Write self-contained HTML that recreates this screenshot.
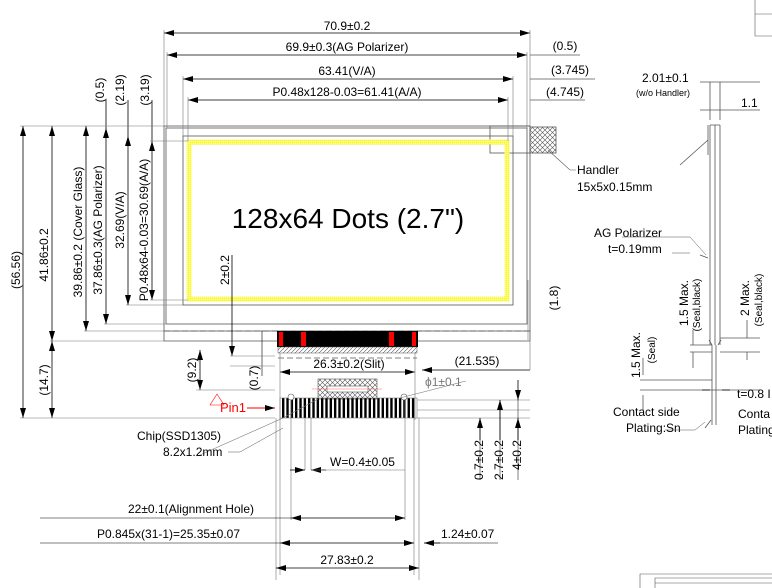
<!DOCTYPE html>
<html><head><meta charset="utf-8"><style>
body{margin:0;background:#fff}
svg{display:block}
text{font-family:"Liberation Sans",sans-serif;fill:#000}
</style></head><body>
<svg width="772" height="588" viewBox="0 0 772 588" xmlns="http://www.w3.org/2000/svg">
<defs>
<marker id="a" viewBox="0 0 10 6" refX="10" refY="3" markerWidth="10" markerHeight="6" orient="auto-start-reverse" markerUnits="userSpaceOnUse"><path d="M0,0L10,3L0,6z" fill="#000"/></marker>
<pattern id="hx" width="5" height="5" patternUnits="userSpaceOnUse"><path d="M0,0L5,5M5,0L0,5" stroke="#555" stroke-width="0.6"/></pattern>
<pattern id="hd" width="4" height="4" patternUnits="userSpaceOnUse"><path d="M0,4L4,0" stroke="#555" stroke-width="0.6"/></pattern>
<pattern id="pin" x="282" width="4.33" height="10" patternUnits="userSpaceOnUse"><rect x="0" y="0" width="2.4" height="10" fill="#000"/></pattern>
<pattern id="yl" width="2" height="2" patternUnits="userSpaceOnUse"><rect width="2" height="2" fill="#ffff90"/><path d="M0,0H2M0,0V2" stroke="#f0f000" stroke-width="0.7"/></pattern>
</defs>
<g fill="none" stroke="#555" stroke-width="0.8">
<rect x="164" y="126" width="366" height="205"/>
<rect x="166" y="128" width="361" height="196"/>
<rect x="183" y="136" width="330" height="169"/>
<path d="M164,331V341H277M418,341H530V331" />
<path d="M164,331H530" stroke-dasharray="6,3"/>
<rect x="490" y="126" width="40" height="27"/>
</g>
<rect x="189" y="142" width="318" height="157" fill="none" stroke="url(#yl)" stroke-width="5"/>
<rect x="530" y="127" width="26" height="26" fill="url(#hx)" stroke="#555" stroke-width="0.8"/>
<text x="348" y="228" font-size="28" text-anchor="middle">128x64 Dots (2.7")</text>
<g stroke="#000" stroke-width="0.8" fill="none">
<path d="M164,33H530" marker-start="url(#a)" marker-end="url(#a)"/>
<path d="M167,55H527" marker-start="url(#a)" marker-end="url(#a)"/>
<path d="M183,79H513" marker-start="url(#a)" marker-end="url(#a)"/>
<path d="M188,100H508" marker-start="url(#a)" marker-end="url(#a)"/>
<path d="M530,55H580M530,79H595M530,100H585" stroke-width="0.6"/>
<path d="M164,30V126M167,52V128M183,76V136M188,97V141M530,30V126M527,52V128M513,76V136M508,97V141" stroke="#777" stroke-width="0.6"/>
<path d="M23,126V418" marker-start="url(#a)" marker-end="url(#a)"/>
<path d="M52,126V341" marker-start="url(#a)" marker-end="url(#a)"/>
<path d="M52,341V418" marker-start="url(#a)" marker-end="url(#a)"/>
<path d="M86,126V331" marker-start="url(#a)" marker-end="url(#a)"/>
<path d="M106,128V324" marker-start="url(#a)" marker-end="url(#a)"/>
<path d="M128,136V305" marker-start="url(#a)" marker-end="url(#a)"/>
<path d="M152,141V300" marker-start="url(#a)" marker-end="url(#a)"/>
<path d="M106,100V128M128,100V136M152,100V141" />
<path d="M20,126H164M20,418H275M50,341H164M84,331H164M104,324H166M126,305H183M150,300H188M150,141H188" stroke="#777" stroke-width="0.6"/>
<path d="M232,255V341M232,341V356" marker-end="url(#a)"/>
<path d="M262,331V376" stroke-width="0.6"/>
<path d="M200,350V390" marker-start="url(#a)" marker-end="url(#a)"/>
<path d="M196,390H275M230,356H275M230,366H275" stroke="#777" stroke-width="0.6"/>
</g>
<g font-size="12">
<text x="347" y="30" text-anchor="middle">70.9±0.2</text>
<text x="347" y="51" text-anchor="middle">69.9±0.3(AG Polarizer)</text>
<text x="347" y="75" text-anchor="middle">63.41(V/A)</text>
<text x="347" y="96" text-anchor="middle">P0.48x128-0.03=61.41(A/A)</text>
<text x="565" y="50" text-anchor="middle">(0.5)</text>
<text x="570" y="74" text-anchor="middle">(3.745)</text>
<text x="565" y="96" text-anchor="middle">(4.745)</text>
<text transform="translate(20,270) rotate(-90)" text-anchor="middle">(56.56)</text>
<text transform="translate(48,255) rotate(-90)" text-anchor="middle">41.86±0.2</text>
<text transform="translate(82,232) rotate(-90)" text-anchor="middle">39.86±0.2 (Cover Glass)</text>
<text transform="translate(102,230) rotate(-90)" text-anchor="middle">37.86±0.3(AG Polarizer)</text>
<text transform="translate(124,220) rotate(-90)" text-anchor="middle">32.69(V/A)</text>
<text transform="translate(148,230) rotate(-90)" text-anchor="middle">P0.48x64-0.03=30.69(A/A)</text>
<text transform="translate(104,90) rotate(-90)" text-anchor="middle">(0.5)</text>
<text transform="translate(124,90) rotate(-90)" text-anchor="middle">(2.19)</text>
<text transform="translate(149,90) rotate(-90)" text-anchor="middle">(3.19)</text>
<text transform="translate(48,380) rotate(-90)" text-anchor="middle">(14.7)</text>
<text transform="translate(196,370) rotate(-90)" text-anchor="middle">(9.2)</text>
<text transform="translate(258,378) rotate(-90)" text-anchor="middle">(0.7)</text>
<text transform="translate(229,270) rotate(-90)" text-anchor="middle">2±0.2</text>
<text transform="translate(558,298) rotate(-90)" text-anchor="middle">(1.8)</text>
<text x="577" y="174">Handler</text>
<text x="577" y="191">15x5x0.15mm</text>
</g>
<path d="M548,150L570,170H576" stroke="#555" fill="none" stroke-width="0.6"/>
<path d="M528,280V340" stroke="#777" stroke-width="0.6"/>
<rect x="277" y="331" width="141" height="16" fill="#000"/>
<rect x="279" y="332" width="4" height="14" fill="#f00"/><rect x="301" y="332" width="5" height="14" fill="#f00"/><rect x="389" y="332" width="5" height="14" fill="#f00"/><rect x="412" y="332" width="4" height="14" fill="#f00"/>
<rect x="278" y="347" width="139" height="6" fill="url(#hd)" stroke="#555" stroke-width="0.5"/>
<path d="M278,358H417" stroke="#555" stroke-dasharray="6,3" stroke-width="0.8"/>
<g stroke="#000" stroke-width="0.8" fill="none">
<path d="M280,372H415" marker-start="url(#a)" marker-end="url(#a)"/>
<path d="M422,370H530" marker-start="url(#a)"/>
<path d="M280,353V420M415,353V420" stroke="#777" stroke-width="0.6"/>
<path d="M530,340V370" stroke="#777" stroke-width="0.6"/>
</g>
<rect x="318" y="379" width="59" height="20" fill="url(#hx)" stroke="#555" stroke-width="0.6"/>
<rect x="327" y="386" width="41" height="6" fill="#fff" stroke="#555" stroke-width="0.6"/>
<path d="M312,389H382" stroke="#f66" stroke-width="0.5"/>
<rect x="282" y="398" width="134" height="20" fill="url(#pin)"/>
<rect x="280" y="398" width="137" height="20" fill="none" stroke="#777" stroke-width="0.6"/>
<circle cx="291" cy="397" r="3" fill="#fff" stroke="#555" stroke-width="0.6"/>
<circle cx="404" cy="397" r="3" fill="#fff" stroke="#555" stroke-width="0.6"/>
<text x="425" y="386" font-size="12" style="fill:#777">ϕ1±0.1</text>
<path d="M400,398L466,381" stroke="#777" stroke-width="0.6"/>
<text x="220" y="412" font-size="13" style="fill:#f00">Pin1</text>
<path d="M210,405L217,394L224,405z" fill="none" stroke="#f00" stroke-width="0.6"/>
<path d="M247,408H275" stroke="#f00" stroke-width="1" marker-end="url(#a)"/>
<g stroke="#777" stroke-width="0.6" fill="none">
<path d="M276,418V580M280,418V575M291,400V520M305,418V470M311,418V470M405,400V520M414,418V575M419,418V580"/>
<path d="M417,410H530M417,418H530M417,400H530"/>
<path d="M283,418L200,455L196,456M318,399L283,418"/>
</g>
<g stroke="#000" stroke-width="0.8" fill="none">
<path d="M290,470H305" marker-end="url(#a)"/><path d="M326,470H311" marker-end="url(#a)"/><path d="M311,470H405" stroke="#777" stroke-width="0.6"/>
<path d="M291,518H405" marker-start="url(#a)" marker-end="url(#a)"/>
<path d="M40,518H291" stroke-width="0.6"/>
<path d="M280,543H414" marker-start="url(#a)" marker-end="url(#a)"/>
<path d="M40,543H280" stroke-width="0.6"/>
<path d="M430,543H498" stroke-width="0.6"/><path d="M440,543H424" marker-end="url(#a)"/>
<path d="M276,568H419" marker-start="url(#a)" marker-end="url(#a)"/>
<path d="M480,440V418" marker-end="url(#a)"/>
<path d="M500,440V400" marker-end="url(#a)"/>
<path d="M518,380V400" marker-end="url(#a)"/><path d="M518,440V418" marker-end="url(#a)"/>
<path d="M480,418V480M500,400V480M518,400V480" stroke-width="0.5"/>
</g>
<g font-size="12">
<text x="349" y="368" text-anchor="middle">26.3±0.2(Slit)</text>
<text x="477" y="365" text-anchor="middle">(21.535)</text>
<text x="137" y="440">Chip(SSD1305)</text>
<text x="163" y="456">8.2x1.2mm</text>
<path d="M228,452H240L283,428" stroke="#555" stroke-width="0.5" fill="none"/>
<text x="330" y="466">W=0.4±0.05</text>
<text x="128" y="513">22±0.1(Alignment Hole)</text>
<text x="97" y="538">P0.845x(31-1)=25.35±0.07</text>
<text x="441" y="538">1.24±0.07</text>
<text x="347" y="564" text-anchor="middle">27.83±0.2</text>
<text transform="translate(483,460) rotate(-90)" text-anchor="middle">0.7±0.2</text>
<text transform="translate(503,460) rotate(-90)" text-anchor="middle">2.7±0.2</text>
<text transform="translate(521,455) rotate(-90)" text-anchor="middle">4±0.2</text>
</g>
<g stroke="#555" stroke-width="0.8" fill="none">
<path d="M710,125V345M715,125V345M720,125V345M708,125V155M710,125H720"/>
<path d="M712,345V425M716,345V425"/>
<path d="M710,82V120M720,82V120M700,82H760M700,110H760"/>
<path d="M712,345L709,340M718,345L721,340"/>
<path d="M640,380H712M640,390H712M690,345H712M690,352H712M720,338H760M720,352H760M700,390H760"/>
<path d="M643,375V358M643,395V410M693,330V345M693,368V352M747,320V338M747,360V352"/>
<path d="M680,165L708,140M700,255L708,258M705,428L711,420"/>
</g>
<g font-size="12">
<text x="642" y="82">2.01±0.1</text>
<text x="636" y="96" font-size="9">(w/o Handler)</text>
<text x="741" y="107">1.1</text>
<text x="594" y="237">AG Polarizer</text>
<text x="608" y="253">t=0.19mm</text>
<text transform="translate(688,303) rotate(-90)" text-anchor="middle">1.5 Max.</text>
<text transform="translate(700,305) rotate(-90)" text-anchor="middle" font-size="10">(Seal,black)</text>
<text transform="translate(749,298) rotate(-90)" text-anchor="middle">2 Max.</text>
<text transform="translate(762,300) rotate(-90)" text-anchor="middle" font-size="10">(Seal,black)</text>
<text transform="translate(640,355) rotate(-90)" text-anchor="middle">1.5 Max.</text>
<text transform="translate(655,350) rotate(-90)" text-anchor="middle" font-size="10">(Seal)</text>
<text x="737" y="398">t=0.8 I</text>
<text x="613" y="416">Contact side</text>
<text x="626" y="432">Plating:Sn</text>
<text x="738" y="418">Conta</text>
<text x="738" y="434">Plating</text>
</g>
<path d="M702,390H710M730,390H722" stroke="#000" stroke-width="0.8"/>
<path d="M665,430H695L705,422" stroke="#555" fill="none" stroke-width="0.5"/>
<path d="M622,237H690L706,255M672,253H690" stroke="#555" fill="none" stroke-width="0.5"/>
<g stroke="#555" stroke-width="0.6" fill="none">
<path d="M755,0V36H772M755,14H772"/>
<path d="M640,588V574H772M655,588V578H772M655,583H772"/>
</g>
</svg>
</body></html>
